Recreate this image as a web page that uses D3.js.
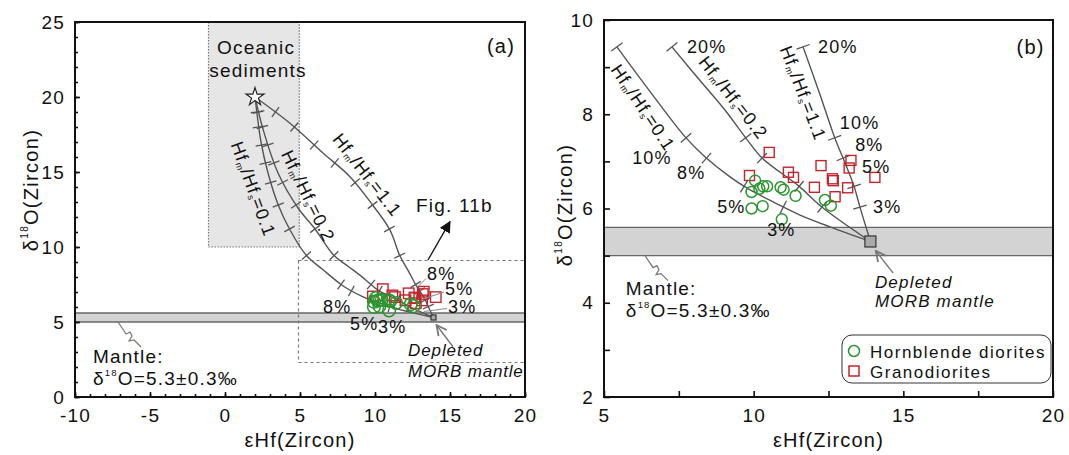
<!DOCTYPE html>
<html>
<head>
<meta charset="utf-8">
<script src="https://cdn.jsdelivr.net/npm/d3@7"></script>
<style>
body { margin: 0; background: #fff; }
text { font-family: Arial, "Liberation Sans", sans-serif; fill: #111; }
</style>
</head>
<body>
<div id="vizArea"></div>
<script>
// ---- data ----
var hbEps = [10.05, 9.93, 10.19, 10.32, 10.45, 10.90, 11.00, 11.40, 9.93, 10.30, 10.94, 12.38, 12.58];
var hbO   = [6.59, 6.35, 6.42, 6.47, 6.47, 6.45, 6.40, 6.27, 6.00, 6.05, 5.77, 6.18, 6.06];
var grEps = [10.52, 9.86, 11.16, 11.33, 12.25, 13.25, 13.19, 14.05, 12.63, 12.66, 12.03, 13.14, 12.72];
var grO   = [7.19, 6.70, 6.77, 6.66, 6.91, 7.02, 6.86, 6.66, 6.63, 6.59, 6.45, 6.44, 6.25];

var sediment = [2, 20];
var dmm = [13.9, 5.3];
var mantleBand = [5.0, 5.6];

// mixing curves, sediment -> depleted mantle
var curve01 = [[2, 20], [2.12, 19.0], [2.4, 17.0], [2.85, 15.0], [3.55, 12.8], [4.3, 11.2], [5.43, 9.43], [6.54, 8.48], [7.71, 7.52], [8.37, 7.10], [9.21, 6.67], [9.81, 6.42], [10.71, 6.12], [11.55, 5.86], [12.55, 5.61], [13.9, 5.3]];
var curve02 = [[2, 20], [2.55, 17.8], [3.55, 14.9], [4.87, 12.6], [6.0, 11.2], [7.27, 9.43], [8.2, 8.72], [9.04, 8.09], [9.71, 7.52], [10.28, 7.07], [11.5, 6.48], [12.32, 6.01], [13.9, 5.3]];
var curve11 = [[2, 20], [4.33, 18.25], [6.55, 16.25], [8.33, 14.69], [9.67, 13.02], [11.0, 11.13], [11.65, 9.43], [12.22, 8.41], [12.72, 7.48], [13.0, 7.05], [13.35, 6.48], [13.55, 6.03], [13.9, 5.3]];
// delta18O level of the mixing tick marks (90% ... 3%)
var tickO   = [19.0, 18.0, 16.8, 15.6, 14.3, 12.8, 11.2, 9.43, 7.5, 7.07, 6.47, 6.03];
var tickPct = [90, 80, 70, 60, 50, 40, 30, 20, 10, 8, 5, 3];

var xTicksA = [-10, -5, 0, 5, 10, 15, 20];
var yTicksA = [0, 5, 10, 15, 20, 25];
var xTicksB = [5, 10, 15, 20];
var yTicksB = [2, 4, 6, 8, 10];

var green = "#2a962f", red = "#c4242c", lineGrey = "#555";

var svg = d3.select("#vizArea")
  .append("svg")
    .attr("width", 1069)
    .attr("height", 455);

var defs = svg.append("defs");
defs.append("marker").attr("id", "openArrow")
  .attr("viewBox", "0 0 10 10").attr("refX", 9).attr("refY", 5)
  .attr("markerWidth", 9).attr("markerHeight", 9).attr("orient", "auto")
  .append("path").attr("d", "M1,1 L9,5 L1,9").attr("fill", "none").attr("stroke", "#777").attr("stroke-width", 1.4);
defs.append("marker").attr("id", "solidArrow")
  .attr("viewBox", "0 0 10 10").attr("refX", 9).attr("refY", 5)
  .attr("markerWidth", 9).attr("markerHeight", 9).attr("orient", "auto")
  .append("path").attr("d", "M0,0 L10,5 L0,10 z").attr("fill", "#111");

function addText(g, x, y, str, size, opts) {
  opts = opts || {};
  return g.append("text")
    .attr("x", x).attr("y", y)
    .attr("font-size", size)
    .attr("letter-spacing", opts.ls == null ? 1.2 : opts.ls)
    .attr("text-anchor", opts.anchor || "start")
    .attr("dominant-baseline", "central")
    .attr("font-style", opts.italic ? "italic" : null)
    .text(str);
}

function ratioLabel(g, x, y, ang, val, fs) {
  var t = g.append("text")
    .attr("transform", "translate(" + x + "," + y + ") rotate(" + ang + ")")
    .attr("text-anchor", "middle").attr("dominant-baseline", "central")
    .attr("font-size", fs).attr("letter-spacing", 1);
  t.append("tspan").text("Hf");
  t.append("tspan").attr("font-size", fs * 0.5).attr("dy", 5).text("m");
  t.append("tspan").attr("dy", -5).text("/Hf");
  t.append("tspan").attr("font-size", fs * 0.5).attr("dy", 5).text("s");
  t.append("tspan").attr("dy", -5).text("=" + val);
}

function deltaText(g, x, y, str, size) {
  var t = g.append("text").attr("x", x).attr("y", y)
    .attr("font-size", size).attr("letter-spacing", 1.2)
    .attr("dominant-baseline", "central");
  t.append("tspan").text("δ");
  t.append("tspan").attr("font-size", size * 0.5).attr("dy", -6).text("18");
  t.append("tspan").attr("dy", 6).text(str);
  return t;
}

function squiggle(g, x0, y0, s) {
  var pts = [[0, 0], [8, 12], [12, 10], [14, 14], [11, 19], [16, 18], [23, 25]];
  g.append("path")
    .attr("d", d3.line()(pts.map(function (p) { return [x0 + p[0] * s, y0 + p[1] * s]; })))
    .attr("fill", "none").attr("stroke", "#777").attr("stroke-width", 1.2);
}

function drawTicks(g, node, y, levels, half) {
  var len = node.getTotalLength(), pts = [];
  for (var s = 0; s <= len; s += 0.5) pts.push(node.getPointAtLength(s));
  pts.push(node.getPointAtLength(len));
  levels.forEach(function (v) {
    var py = y(v);
    for (var i = 1; i < pts.length; i++) {
      var a = pts[i - 1], b = pts[i];
      if ((a.y - py) * (b.y - py) <= 0) {
        var t = (b.y === a.y) ? 0 : (py - a.y) / (b.y - a.y);
        var cx = a.x + t * (b.x - a.x), cy = py;
        var j0 = Math.max(0, i - 8), j1 = Math.min(pts.length - 1, i + 8);
        var dx = pts[j1].x - pts[j0].x, dy = pts[j1].y - pts[j0].y;
        var L = Math.sqrt(dx * dx + dy * dy) || 1;
        var nx = -dy / L, ny = dx / L;
        g.append("line")
          .attr("x1", cx - nx * half).attr("y1", cy - ny * half)
          .attr("x2", cx + nx * half).attr("y2", cy + ny * half)
          .attr("stroke", lineGrey).attr("stroke-width", 1.3);
        break;
      }
    }
  });
}

function drawPanel(p) {
  var g = svg.append("g");
  var x = d3.scaleLinear().domain(p.xDom).range(p.xRange);
  var y = d3.scaleLinear().domain(p.yDom).range(p.yRange);
  var w = p.xRange[1] - p.xRange[0], h = p.yRange[0] - p.yRange[1];

  g.append("clipPath").attr("id", p.id + "clip")
    .append("rect").attr("x", p.xRange[0]).attr("y", p.yRange[1]).attr("width", w).attr("height", h);

  var inner = g.append("g").attr("clip-path", "url(#" + p.id + "clip)");

  // mantle band
  inner.append("rect")
    .attr("x", p.xRange[0]).attr("width", w)
    .attr("y", y(mantleBand[1])).attr("height", y(mantleBand[0]) - y(mantleBand[1]))
    .attr("fill", "#d3d3d3");
  mantleBand.forEach(function (v) {
    inner.append("line").attr("x1", p.xRange[0]).attr("x2", p.xRange[1])
      .attr("y1", y(v)).attr("y2", y(v)).attr("stroke", "#666").attr("stroke-width", 1.3);
  });

  if (p.extra) p.extra(g, inner, x, y);

  // mixing curves
  var line = d3.line().x(function (d) { return x(d[0]); }).y(function (d) { return y(d[1]); })
    .curve(d3.curveCatmullRom.alpha(0.5));
  [curve01, curve02, curve11].forEach(function (c) {
    var pts = c.filter(function (d) { return d[1] <= p.maxO + 0.01; });
    var path = inner.append("path").attr("d", line(pts))
      .attr("fill", "none").attr("stroke", lineGrey).attr("stroke-width", 1.4);
    drawTicks(inner, path.node(), y, tickO.filter(function (v) { return v <= p.maxO + 0.01; }), p.tickHalf);
  });

  // samples
  grEps.forEach(function (e, i) {
    inner.append("rect")
      .attr("x", x(e) - p.sq / 2).attr("y", y(grO[i]) - p.sq / 2)
      .attr("width", p.sq).attr("height", p.sq)
      .attr("fill", "none").attr("stroke", red).attr("stroke-width", 1.4);
  });
  hbEps.forEach(function (e, i) {
    inner.append("circle")
      .attr("cx", x(e)).attr("cy", y(hbO[i])).attr("r", p.cr)
      .attr("fill", "none").attr("stroke", green).attr("stroke-width", 1.5);
  });

  // depleted MORB mantle
  inner.append("rect")
    .attr("x", x(dmm[0]) - p.dmm / 2).attr("y", y(dmm[1]) - p.dmm / 2)
    .attr("width", p.dmm).attr("height", p.dmm)
    .attr("fill", "#aaa").attr("stroke", "#333").attr("stroke-width", 1.2);

  // axes
  var fmt = function (d) { return String(d); };
  var xMinor = d3.axisBottom(x).tickValues(p.xMinor).tickSize(-p.minorLen).tickFormat("");
  g.append("g").attr("transform", "translate(0," + p.yRange[0] + ")").call(xMinor);
  var xAxis = d3.axisBottom(x).tickValues(p.xTicks).tickSize(-p.majorLen).tickPadding(12).tickFormat(fmt);
  g.append("g").attr("transform", "translate(0," + p.yRange[0] + ")").call(xAxis);
  var yMinor = d3.axisLeft(y).tickValues(p.yMinor).tickSize(-p.minorLen).tickFormat("");
  g.append("g").attr("transform", "translate(" + p.xRange[0] + ",0)").call(yMinor);
  var yAxis = d3.axisLeft(y).tickValues(p.yTicks).tickSize(-p.majorLen).tickPadding(10).tickFormat(fmt);
  g.append("g").attr("transform", "translate(" + p.xRange[0] + ",0)").call(yAxis);
  g.selectAll(".domain").remove();
  g.selectAll(".tick line").attr("stroke", "#111").attr("stroke-width", 1.6);
  g.selectAll(".tick text").attr("font-size", 19).attr("letter-spacing", 1.2)
    .attr("font-family", "Arial, 'Liberation Sans', sans-serif").attr("fill", "#111");

  g.append("rect")
    .attr("x", p.xRange[0]).attr("y", p.yRange[1]).attr("width", w).attr("height", h)
    .attr("fill", "none").attr("stroke", "#111").attr("stroke-width", 2);

  // axis titles
  var xc = (p.xRange[0] + p.xRange[1]) / 2;
  addText(g, xc, 440, "εHf(Zircon)", 20, { anchor: "middle" });
  var yt = g.append("text")
    .attr("transform", "translate(" + p.yTitleX + "," + p.yTitleY + ") rotate(-90)")
    .attr("text-anchor", "middle").attr("dominant-baseline", "central")
    .attr("font-size", 20).attr("letter-spacing", 1.3);
  yt.append("tspan").text("δ");
  yt.append("tspan").attr("font-size", 10).attr("dy", -7).text("18");
  yt.append("tspan").attr("dy", 7).text("O(Zircon)");

  if (p.labels) p.labels(g, x, y);
}

// ---------- panel (a) ----------
drawPanel({
  id: "a",
  xDom: [-10, 20], xRange: [75, 525],
  yDom: [0, 25], yRange: [397, 22],
  xTicks: xTicksA, yTicks: yTicksA,
  xMinor: d3.range(-10, 21, 1), yMinor: d3.range(0, 26, 1),
  minorLen: 3, majorLen: 5,
  maxO: 25, tickHalf: 6,
  cr: 6.3, sq: 10.5, dmm: 5,
  yTitleX: 31, yTitleY: 190,
  extra: function (g, inner, x, y) {
    inner.append("rect")
      .attr("x", x(-1.1)).attr("y", y(25)).attr("width", x(4.95) - x(-1.1)).attr("height", y(10) - y(25))
      .attr("fill", "#e6e6e6").attr("stroke", "#777").attr("stroke-width", 1.2).attr("stroke-dasharray", "1.5,1.5");
    inner.append("rect")
      .attr("x", x(4.9)).attr("y", y(9.1)).attr("width", x(20) - x(4.9)).attr("height", y(2.3) - y(9.1))
      .attr("fill", "none").attr("stroke", "#777").attr("stroke-width", 1.2).attr("stroke-dasharray", "3,3");
  },
  labels: function (g, x, y) {
    addText(g, x(18.4), y(23.4), "(a)", 20, { anchor: "middle" });
    addText(g, x(2.07), y(23.33), "Oceanic", 19, { anchor: "middle" });
    addText(g, x(2.2), y(21.8), "sediments", 19, { anchor: "middle" });
    g.append("path").attr("d", d3.symbol(d3.symbolStar, 100)())
      .attr("transform", "translate(" + x(sediment[0]) + "," + y(sediment[1]) + ")")
      .attr("fill", "#fff").attr("stroke", "#222").attr("stroke-width", 1.2);
    ratioLabel(g, x(1.87), y(13.87), 70, "0.1", 18);
    ratioLabel(g, x(5.53), y(13.4), 64, "0.2", 18);
    ratioLabel(g, x(9.47), y(14.8), 52, "1.1", 18);
    addText(g, x(12.73), y(12.8), "Fig. 11b", 19);
    g.append("line").attr("x1", x(13.53)).attr("y1", y(9.13)).attr("x2", x(15)).attr("y2", y(11.69))
      .attr("stroke", "#111").attr("stroke-width", 1.3).attr("marker-end", "url(#solidArrow)");
    addText(g, x(6.53), y(6.0), "8%", 18);
    addText(g, x(8.33), y(4.87), "5%", 18);
    addText(g, x(10.2), y(4.67), "3%", 18);
    addText(g, x(13.47), y(8.2), "8%", 18);
    addText(g, x(14.67), y(7.2), "5%", 18);
    addText(g, x(14.87), y(6.0), "3%", 18);
    [[13.4, 7.9, 12.85, 7.35], [14.6, 7.0, 13.1, 6.5], [14.8, 5.9, 13.25, 5.7]].forEach(function (l) {
      g.append("line").attr("x1", x(l[0])).attr("y1", y(l[1])).attr("x2", x(l[2])).attr("y2", y(l[3]))
        .attr("stroke", "#888").attr("stroke-width", 1);
    });
    addText(g, x(12.2), y(3.13), "Depleted", 17, { italic: true, ls: 0.9 });
    addText(g, x(12.2), y(1.67), "MORB mantle", 17, { italic: true, ls: 0.8 });
    g.append("line").attr("x1", x(15.2)).attr("y1", y(3.35)).attr("x2", x(14.1)).attr("y2", y(4.8))
      .attr("stroke", "#777").attr("stroke-width", 1.4).attr("marker-end", "url(#openArrow)");
    addText(g, x(-8.8), y(2.73), "Mantle:", 19);
    deltaText(g, x(-8.8), y(1.27), "O=5.3±0.3‰", 19);
    squiggle(g, x(-7.13), y(5.0), 1);
  }
});

// ---------- panel (b) ----------
drawPanel({
  id: "b",
  xDom: [5, 20], xRange: [604, 1053],
  yDom: [2, 10], yRange: [397, 20],
  xTicks: xTicksB, yTicks: yTicksB,
  xMinor: [7.5, 12.5, 17.5], yMinor: [3, 5, 7, 9],
  minorLen: 6, majorLen: 6,
  maxO: 9.43, tickHalf: 7,
  cr: 5.5, sq: 10, dmm: 11,
  yTitleX: 565, yTitleY: 205,
  labels: function (g, x, y) {
    addText(g, x(19.25), y(9.43), "(b)", 20, { anchor: "middle" });
    ratioLabel(g, x(6.3), y(8.14), 56, "0.1", 18);
    ratioLabel(g, x(9.31), y(8.35), 52, "0.2", 18);
    ratioLabel(g, x(11.65), y(8.45), 69, "1.1", 18);
    addText(g, x(7.77), y(9.43), "20%", 18);
    addText(g, x(12.15), y(9.43), "20%", 18);
    addText(g, x(5.94), y(7.07), "10%", 18);
    addText(g, x(7.44), y(6.76), "8%", 18);
    addText(g, x(8.78), y(6.03), "5%", 18);
    addText(g, x(10.45), y(5.55), "3%", 18);
    addText(g, x(12.88), y(7.82), "10%", 18);
    addText(g, x(13.39), y(7.35), "8%", 18);
    addText(g, x(13.62), y(6.88), "5%", 18);
    addText(g, x(13.99), y(6.03), "3%", 18);
    addText(g, x(14.05), y(4.44), "Depleted", 17, { italic: true });
    addText(g, x(14.05), y(4.02), "MORB mantle", 17, { italic: true });
    g.append("line").attr("x1", x(14.66)).attr("y1", y(4.63)).attr("x2", x(14.08)).attr("y2", y(5.1))
      .attr("stroke", "#777").attr("stroke-width", 1.4).attr("marker-end", "url(#openArrow)");
    addText(g, x(5.73), y(4.31), "Mantle:", 19);
    deltaText(g, x(5.73), y(3.85), "O=5.3±0.3‰", 19);
    squiggle(g, x(6.37), y(5.0), 1);

    // legend
    var lg = g.append("g");
    lg.append("rect").attr("x", 842).attr("y", 335).attr("width", 209).attr("height", 48).attr("rx", 10)
      .attr("fill", "#fff").attr("stroke", "#333").attr("stroke-width", 1);
    lg.append("circle").attr("cx", 854).attr("cy", 351).attr("r", 5.5)
      .attr("fill", "none").attr("stroke", green).attr("stroke-width", 1.5);
    lg.append("rect").attr("x", 849).attr("y", 366).attr("width", 10).attr("height", 10)
      .attr("fill", "none").attr("stroke", red).attr("stroke-width", 1.5);
    addText(lg, 870, 352, "Hornblende  diorites", 17, { ls: 1.5 });
    addText(lg, 870, 372, "Granodiorites", 17, { ls: 1.5 });
  }
});
</script>
</body>
</html>
